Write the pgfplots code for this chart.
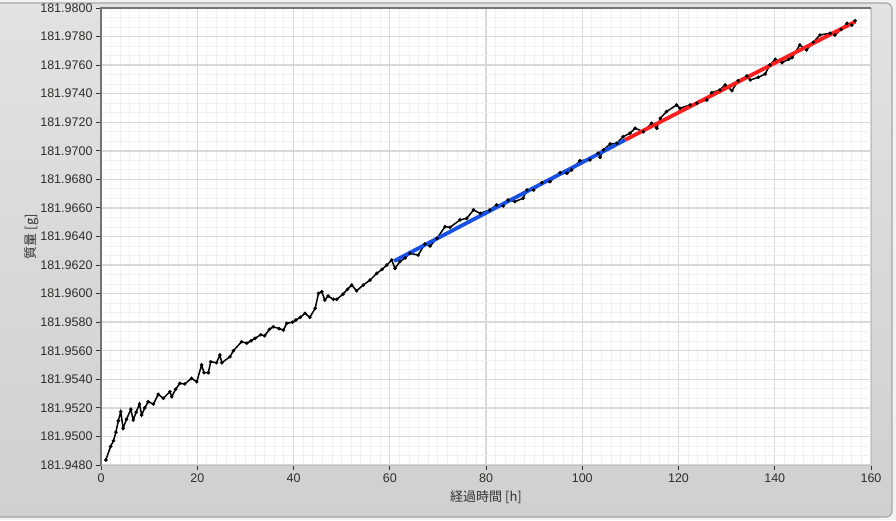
\documentclass[border=0pt]{standalone}
\usepackage{pgfplots}
\usepackage{pgfplotstable}
\pgfplotsset{compat=1.18}
\usepackage{fontspec}
\setmainfont{Liberation Sans}
\newfontfamily\jpfont{Noto Sans CJK JP}

\definecolor{outerbg}{HTML}{F2F2F2}
\definecolor{panelTop}{HTML}{E2E2E2}
\definecolor{panelBot}{HTML}{D0D0D0}
\definecolor{ticktxt}{HTML}{2E2E2A}
\definecolor{fitblue}{HTML}{1650E4}
\definecolor{fitred}{HTML}{FF1E1E}

% mass in g; the 181.948 offset is removed with l3fp so pgf's float unit keeps the small steps
\pgfplotstableread{
t m
1.0 181.94835
2.0 181.94930
2.6 181.94970
3.1 181.95030
3.6 181.95110
4.1 181.95173
4.6 181.95057
5.3 181.95120
6.2 181.95190
6.7 181.95115
7.3 181.95170
8.0 181.95227
8.45 181.95150
9.1 181.95200
9.8 181.95243
10.9 181.95227
11.9 181.95295
12.95 181.95267
14.3 181.95313
14.7 181.95278
15.5 181.95330
16.4 181.95372
17.4 181.95367
18.8 181.95407
19.9 181.95383
20.9 181.95500
21.4 181.95446
22.3 181.95446
22.8 181.95523
24.0 181.95516
24.7 181.95570
25.1 181.95516
26.8 181.95558
27.5 181.95600
29.2 181.95663
30.3 181.95653
31.2 181.95670
32.0 181.95687
33.2 181.95712
34.0 181.95705
35.0 181.95750
35.8 181.95768
37.0 181.95755
37.9 181.95745
38.6 181.95792
39.8 181.95800
40.5 181.95815
41.4 181.95834
42.4 181.95862
43.4 181.95834
44.5 181.95897
45.2 181.96002
45.9 181.96013
46.5 181.95955
47.2 181.95983
48.3 181.95960
49.0 181.95960
50.3 181.95997
51.2 181.96030
52.1 181.96060
53.1 181.96020
54.5 181.96060
55.9 181.96095
57.3 181.96142
58.4 181.96170
59.4 181.96200
60.4 181.96235
61.1 181.96177
62.1 181.96224
63.2 181.96250
64.2 181.96282
65.9 181.96270
67.3 181.96347
68.4 181.96333
69.8 181.96387
71.5 181.96469
72.5 181.96464
74.6 181.96516
76.0 181.96527
77.4 181.96586
78.8 181.96562
80.8 181.96586
82.2 181.96621
83.6 181.96614
84.6 181.96656
86.0 181.96644
87.7 181.96668
88.5 181.96726
89.9 181.96726
91.6 181.96777
93.3 181.96784
95.4 181.96847
96.8 181.96843
97.8 181.96866
99.5 181.96931
101.6 181.96936
103.3 181.96983
103.7 181.96955
104.4 181.97006
105.8 181.97048
107.2 181.97053
108.5 181.97099
109.9 181.97123
111.0 181.97158
112.7 181.97134
114.4 181.97193
115.5 181.97158
116.2 181.97228
117.5 181.97274
119.6 181.97321
120.3 181.97298
122.4 181.97321
123.8 181.97333
125.9 181.97356
126.9 181.97407
128.6 181.97426
129.7 181.97461
131.1 181.97421
132.4 181.97491
134.2 181.97524
134.9 181.97496
136.6 181.97515
138.0 181.97538
139.0 181.97601
140.1 181.97641
141.5 181.97617
142.9 181.97641
143.6 181.97652
145.2 181.97741
146.6 181.97706
148.0 181.97760
149.4 181.97811
151.5 181.97823
152.5 181.97811
153.8 181.97850
155.0 181.97893
156.0 181.97880
156.7 181.97911
}\massdata

\pgfplotstableread{
t m
60.9 181.96228
108.9 181.97076
}\fitblue

\pgfplotstableread{
t m
108.9 181.97076
156.7 181.97904
}\fitred

\newcommand\addoffsetcol[1]{%
  \pgfplotstablecreatecol[create col/assign/.code={%
    \getthisrow{m}\mval
    \edef\dval{\fpeval{(\mval-181.948)*10000}}%
    \pgfkeyslet{/pgfplots/table/create col/next content}\dval}]{dm}#1}
\addoffsetcol\massdata
\addoffsetcol\fitblue
\addoffsetcol\fitred

\begin{document}
\begin{tikzpicture}
\useasboundingbox (0,0) rectangle (896pt,520pt);
\fill[outerbg] (0,0) rectangle (896pt,520pt);
\shade[top color=panelTop, bottom color=panelBot, draw=black!35, line width=1.2pt, rounded corners=6pt]
  (-8pt,3pt) rectangle (892pt,517pt);

\begin{axis}[
    at={(101pt,55pt)}, anchor=south west,
    scale only axis, width=770pt, height=457pt,
    axis background/.style={fill=white},
    axis line style={draw=black!25},
    xmin=0, xmax=160, ymin=0, ymax=320,
    xtick={0,20,40,60,80,100,120,140,160},
    ytick={0,20,40,60,80,100,120,140,160,180,200,220,240,260,280,300,320},
    yticklabels={181.9480,181.9500,181.9520,181.9540,181.9560,181.9580,181.9600,181.9620,181.9640,181.9660,181.9680,181.9700,181.9720,181.9740,181.9760,181.9780,181.9800},
    minor x tick num=9, minor y tick num=2,
    grid=both,
    major grid style={draw=black!15, line width=1.4pt},
    minor grid style={draw=black!6, line width=0.8pt},
    tick pos=left, tick align=outside,
    major tick length=5pt, minor tick length=0pt,
    tick style={draw=black!80, line width=0.9pt},
    /pgf/number format/assume math mode=true,
    ticklabel style={font=\fontsize{12.5}{14}\selectfont, text=ticktxt},
    xlabel={\jpfont 経過時間 [h]},
    ylabel={\jpfont 質量 [g]},
    xlabel style={at={(axis description cs:0.5,-0.070)}, anchor=center, font=\fontsize{13}{15}\selectfont, text=black!80},
    ylabel style={at={(axis description cs:-0.0896,0.5)}, anchor=center, font=\fontsize{13}{15}\selectfont, text=black!80},
    clip=false,
]
\addplot[black, line width=1.5pt, mark=*, mark size=0.9pt] table[x=t, y=dm] {\massdata};
\addplot[fitblue, line width=3.8pt] table[x=t, y=dm] {\fitblue};
\addplot[fitred, line width=3.8pt] table[x=t, y=dm] {\fitred};
\draw[black!55, line width=1.4pt] (rel axis cs:0,0) -- (rel axis cs:0,1) -- (rel axis cs:1,1);
\end{axis}
\end{tikzpicture}
\end{document}
